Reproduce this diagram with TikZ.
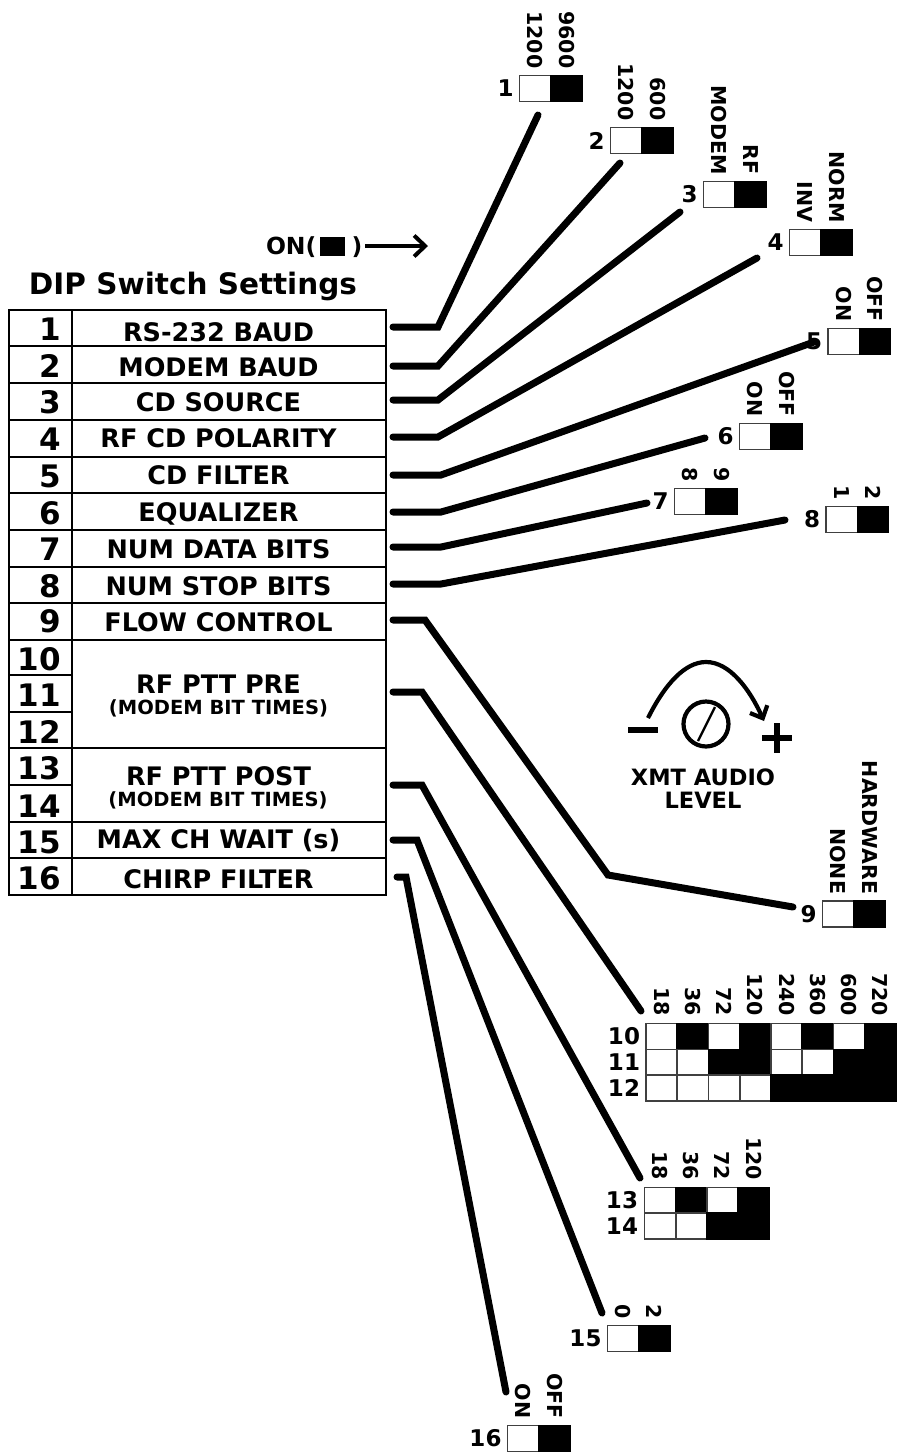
\documentclass[tikz,border=0pt]{standalone}
\usepackage{fontspec}
\setmainfont{DejaVu Sans}
\usetikzlibrary{arrows.meta}
\newcommand{\fs}[1]{\fontsize{#1}{#1}\selectfont\bfseries}
\tikzset{
  base/.style={inner sep=0pt,outer sep=0pt},
  numtxt/.style={base,anchor=base east,font=\fs{31}},
  labtxt/.style={base,anchor=base,font=\fs{25.5}},
  subtxt/.style={base,anchor=base,font=\fs{19.5}},
  tblcell/.style={base,draw=black,line width=2.2pt,anchor=north west,fill=white},
  swnum/.style={base,anchor=east,font=\fs{23}},
  swlab/.style={base,anchor=east,rotate=-90,font=\fs{20.5}},
  cellw/.style={base,draw=black!75,line width=1.6pt,fill=white,anchor=north west,minimum width=31.3pt,minimum height=26pt},
  cellb/.style={base,draw=black,line width=1.6pt,fill=black,anchor=north west,minimum width=31.3pt,minimum height=26pt},
  conn/.style={line width=7pt,line cap=round,line join=miter,draw=black},
}
\newcommand{\dipsw}[6]{% name x y(top) number left right
  \node[cellw] (#1L) at (#2,#3) {};
  \node[cellb] (#1R) at (#2+31.3,#3) {};
  \node[swnum] (#1N) at (#2-6,#3+13) {#4};
  \node[swlab] (#1A) at (#2+15.6,#3-7) {#5};
  \node[swlab] (#1B) at (#2+47,#3-7) {#6};
}
\begin{document}
\begin{tikzpicture}[x=1pt,y=-1pt]
\path[use as bounding box,fill=white] (0,0) rectangle (906,1452);
% title and ON
\node[base,anchor=base,font=\fs{29.5}] (title) at (193,294) {DIP Switch Settings};
\node[base,anchor=base west,font=\fs{23.5}] (on) at (266,254) {ON(};
\node[base,draw=black,fill=black,anchor=north west,minimum width=24pt,minimum height=18pt] (onsq) at (320.5,237.5) {};
\node[base,anchor=base,font=\fs{23.5}] (onp) at (357,254) {)};
\coordinate (arrs) at (365,246);
\coordinate (arre) at (428,246);
\draw[line width=4pt,-{Straight Barb[length=11pt,width=21pt,line width=4pt]}] (arrs) -- (arre);
% table left column
\foreach \i/\t/\h/\b in {1/310/36/340,2/346/37/377,3/383/37/413,4/420/37/450,5/457/36/487,6/493/37/524,7/530/37/560,8/567/36/597,9/603/37/632,10/640/35/670,11/675/37/706,12/712/36/743,13/748/37/779,14/785/37/817,15/822/36/853,16/858/37/889}{
  \node[tblcell,minimum width=63pt,minimum height=\h pt] (numbox\i) at (9,\t) {};
  \node[numtxt] (num\i) at (61,\b) {\i};
}
% table right column
\foreach \i/\t/\h in {1/310/36,2/346/37,3/383/37,4/420/37,5/457/36,6/493/37,7/530/37,8/567/36,9/603/37,10/640/108,13/748/74,15/822/36,16/858/37}{
  \node[tblcell,minimum width=314pt,minimum height=\h pt] (labbox\i) at (72,\t) {};
}
\foreach \i/\b/\s in {1/341/RS-232 BAUD,2/376/MODEM BAUD,3/411/CD SOURCE,4/447/RF CD POLARITY,5/484/CD FILTER,6/521/EQUALIZER,7/558/NUM DATA BITS,8/595/NUM STOP BITS,9/631/FLOW CONTROL,10/693/RF PTT PRE,13/785/RF PTT POST,15/848/MAX CH WAIT (s),16/888/CHIRP FILTER}{
  \node[labtxt] (lab\i) at (218.5,\b) {\s};
}
\node[subtxt] (sub10) at (218.5,714) {(MODEM BIT TIMES)};
\node[subtxt] (sub13) at (218,806) {(MODEM BIT TIMES)};
% switches
\dipsw{a}{519.5}{75.5}{1}{1200}{9600}
\dipsw{b}{610.5}{127.5}{2}{1200}{600}
\dipsw{c}{703.5}{181.5}{3}{MODEM}{RF}
\dipsw{d}{789.5}{229.5}{4}{INV}{NORM}
\dipsw{e}{828}{328.5}{5}{ON}{OFF}
\dipsw{f}{739.5}{423.5}{6}{ON}{OFF}
\dipsw{g}{674.5}{488.5}{7}{8}{9}
\dipsw{h}{826}{506.5}{8}{1}{2}
\dipsw{i}{822.5}{901}{9}{NONE}{HARDWARE}
\dipsw{o}{607.5}{1325.5}{15}{0}{2}
\dipsw{p}{507.5}{1425.5}{16}{ON}{OFF}
% grid 10-12
\foreach \c/\v/\lab in {0/w/18,1/b/36,2/w/72,3/b/120,4/w/240,5/b/360,6/w/600,7/b/720}{
  \node[cell\v] (gA\c) at (646+\c*31.25,1023.5) {};
  \node[swlab] (gAl\c) at (661.5+\c*31.25,1016) {\lab};
}
\foreach \c/\v in {0/w,1/w,2/b,3/b,4/w,5/w,6/b,7/b}{
  \node[cell\v] (gB\c) at (646+\c*31.25,1049.5) {};
}
\foreach \c/\v in {0/w,1/w,2/w,3/w,4/b,5/b,6/b,7/b}{
  \node[cell\v] (gC\c) at (646+\c*31.25,1075) {};
}
\foreach \r/\y in {10/1036,11/1062,12/1088}{\node[swnum] (gn\r) at (640,\y) {\r};}
% grid 13-14
\foreach \c/\v/\lab in {0/w/18,1/b/36,2/w/72,3/b/120}{
  \node[cell\v] (hA\c) at (644.5+\c*31.25,1187.5) {};
  \node[swlab] (hAl\c) at (660+\c*31.25,1180) {\lab};
}
\foreach \c/\v in {0/w,1/w,2/b,3/b}{
  \node[cell\v] (hB\c) at (644.5+\c*31.25,1213) {};
}
\foreach \r/\y in {13/1200,14/1226}{\node[swnum] (hn\r) at (638,\y) {\r};}
% connectors
\foreach \n/\ax/\ay/\bx/\by/\ex/\ey in {1/393/327/438/327/538/115,2/393/366/438/366/620/163,3/393/400/438/400/680/212,4/393/437/438/437/757/258,5/393/475/441/475/814/342,6/393/512/441/512/705/438,7/393/547/441/547/647/503,8/393/584/441/584/785/520,10/393/692/422/692/641/1011,13/393/785/422/785/640/1178,15/393/840/417/840/602/1313,16/397/877/406/877/506/1392}{
  \coordinate (s\n) at (\ax,\ay);
  \coordinate (m\n) at (\bx,\by);
  \coordinate (t\n) at (\ex,\ey);
  \draw[conn] (s\n) -- (m\n) -- (t\n);
}
\coordinate (s9) at (393,620);
\coordinate (m9a) at (425,620);
\coordinate (m9b) at (608,875);
\coordinate (t9) at (793,907);
\draw[conn] (s9) -- (m9a) -- (m9b) -- (t9);
% trim pot
\node[base,circle,draw=black,line width=4.2pt,minimum size=45pt] (pot) at (706,724) {};
\coordinate (sla) at (698,741);
\coordinate (slb) at (715,707);
\draw[line width=2.4pt] (sla) -- (slb);
\coordinate (ara) at (648,718);
\coordinate (arb) at (764,721);
\draw[line width=4.2pt,-{Straight Barb[length=10pt,width=19pt,line width=4.2pt]}] (ara) .. controls (665,684) and (685,662) .. (706,662) .. controls (730,662) and (750,690) .. (arb);
\coordinate (mia) at (628,730);
\coordinate (mib) at (658,730);
\draw[line width=6pt] (mia) -- (mib);
\coordinate (pla) at (762,738);
\coordinate (plb) at (792,738);
\coordinate (plc) at (777,723);
\coordinate (pld) at (777,753);
\draw[line width=6pt] (pla) -- (plb) (plc) -- (pld);
\node[base,anchor=base,font=\fs{22.5}] (xmt) at (703,785) {XMT AUDIO};
\node[base,anchor=base,font=\fs{22.5}] (lvl) at (703,808) {LEVEL};
\end{tikzpicture}
\end{document}
